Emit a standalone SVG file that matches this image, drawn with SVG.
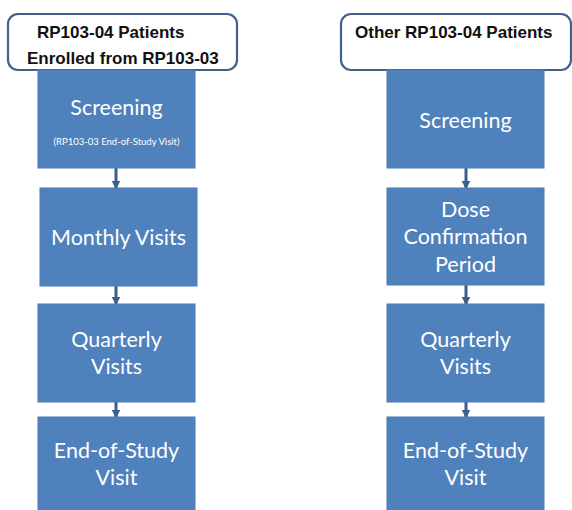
<svg xmlns="http://www.w3.org/2000/svg" width="572" height="510" viewBox="0 0 572 510">
<defs>
<style>
.hdr{fill:#fff;stroke:#41608a;stroke-width:2.2}
.box{fill:#4f81bd;stroke:#4a7ab4;stroke-width:1}
.ht{font-family:"Liberation Sans",Arial,sans-serif;font-weight:bold;font-size:17px;fill:#111}
.bt{font-family:Lato,"Open Sans",sans-serif;font-size:21.5px;fill:#fff;text-anchor:middle}
.st{font-family:Lato,"Open Sans",sans-serif;font-size:9.5px;fill:#fff;text-anchor:middle}
.con{stroke:#3a5f8c;stroke-width:3;fill:none;marker-end:url(#ah)}
</style>
<marker id="ah" viewBox="0 0 6 6" refX="5" refY="3" markerWidth="3" markerHeight="3" orient="auto" markerUnits="strokeWidth">
<path d="M0,0 L6,3 L0,6 z" fill="#3a5f8c"/>
</marker>
</defs>
<rect width="572" height="510" fill="#fff"/>
<g id="connectors">
<line class="con" x1="116" y1="168" x2="116" y2="188"/>
<line class="con" x1="116" y1="286" x2="116" y2="304"/>
<line class="con" x1="116" y1="402" x2="116" y2="417"/>
<line class="con" x1="466" y1="168" x2="466" y2="188"/>
<line class="con" x1="466" y1="285" x2="466" y2="304"/>
<line class="con" x1="466" y1="402" x2="466" y2="417"/>
</g>
<g id="hdr-left">
<rect class="hdr" x="8" y="14" width="229" height="56" rx="10"/>
<text class="ht" x="37" y="38">RP103-04 Patients</text>
<text class="ht" x="27" y="64">Enrolled from RP103-03</text>
</g>
<g id="hdr-right">
<rect class="hdr" x="341" y="14" width="230" height="56" rx="10"/>
<text class="ht" x="355" y="38">Other RP103-04 Patients</text>
</g>
<g id="l-screening">
<rect class="box" x="38" y="70" width="157" height="98"/>
<text class="bt" x="116.5" y="115">Screening</text>
<text class="st" x="116.5" y="145">(RP103-03 End-of-Study Visit)</text>
</g>
<g id="l-monthly">
<rect class="box" x="40" y="188" width="157" height="98"/>
<text class="bt" x="118.5" y="245">Monthly Visits</text>
</g>
<g id="l-quarterly">
<rect class="box" x="38" y="304" width="157" height="98"/>
<text class="bt" x="116.5" y="347">Quarterly</text>
<text class="bt" x="116.5" y="374">Visits</text>
</g>
<g id="l-eos">
<rect class="box" x="38" y="417" width="157" height="95"/>
<text class="bt" x="116.5" y="458">End-of-Study</text>
<text class="bt" x="116.5" y="485">Visit</text>
</g>
<g id="r-screening">
<rect class="box" x="387" y="70" width="157" height="98"/>
<text class="bt" x="465.5" y="128">Screening</text>
</g>
<g id="r-dose">
<rect class="box" x="387" y="188" width="157" height="97"/>
<text class="bt" x="465.5" y="217">Dose</text>
<text class="bt" x="465.5" y="244">Confirmation</text>
<text class="bt" x="465.5" y="272">Period</text>
</g>
<g id="r-quarterly">
<rect class="box" x="387" y="304" width="157" height="98"/>
<text class="bt" x="465.5" y="347">Quarterly</text>
<text class="bt" x="465.5" y="374">Visits</text>
</g>
<g id="r-eos">
<rect class="box" x="387" y="417" width="157" height="95"/>
<text class="bt" x="465.5" y="458">End-of-Study</text>
<text class="bt" x="465.5" y="485">Visit</text>
</g>
</svg>
